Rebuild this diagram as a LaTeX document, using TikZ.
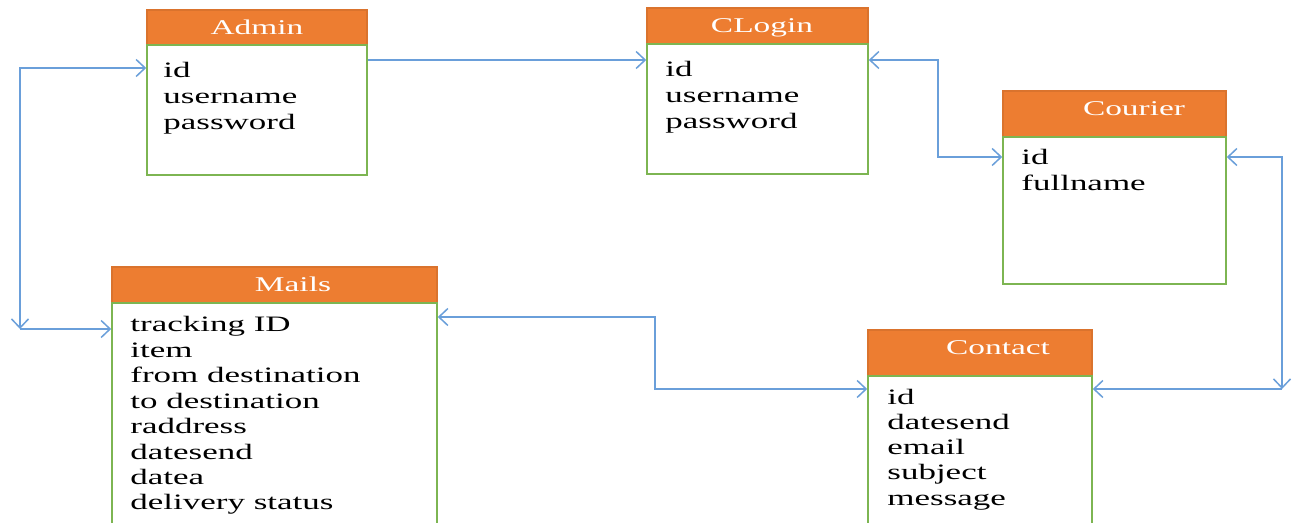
\documentclass[tikz,border=0pt]{standalone}
\usepackage{fontspec}
\setmainfont{Liberation Serif}[FakeStretch=1.59]
\usetikzlibrary{arrows.meta,fit}
\definecolor{hdr}{HTML}{ED7D31}
\definecolor{brd}{HTML}{7DB552}
\definecolor{lnk}{HTML}{6A9FDA}
\tikzset{
 hd/.style={fill=hdr,draw=hdr!92!black,line width=0.6pt,inner sep=0pt},
 bd/.style={draw=brd,line width=0.8pt,inner sep=0pt},
 ttl/.style={text=white,font=\fontsize{10.5}{12}\selectfont,anchor=base,inner sep=0pt},
 fld/.style={text=black,font=\fontsize{11}{13}\selectfont,anchor=base west,inner sep=0pt},
 conn/.style={draw=lnk,line width=0.75pt},
 >={Straight Barb[length=4.5pt,width=8.5pt,line width=0.75pt]}
}
\newcommand\erbox[8]{%
 \node[hd,fit={(#2,#3)(#5,#4)}] (#1H) {};
 \node[bd,fit={(#2,#4)(#5,#6)}] (#1B) {};
 \node[ttl] (#1T) at ({#8},{#3+25}) {#7};
}
\newcommand\erfields[5]{%
 \foreach \erT [count=\erI] in {#5} {\node[fld] (#1F\erI) at ({#2},{#3+(\erI-1)*#4}) {\erT};}
}
\begin{document}
\begin{tikzpicture}[x=0.5pt,y=-0.5pt]
\fill[white] (0,0) rectangle (1294,523);
\useasboundingbox (0,0) rectangle (1294,523);
\erbox{admin}{147}{10}{45}{367}{175}{Admin}{257}
\erfields{admin}{163}{78}{26}{id,username,password}
\erbox{clogin}{647}{8}{44}{868}{174}{CLogin}{762}
\erfields{clogin}{665}{77}{26}{id,username,password}
\erbox{courier}{1003}{91}{137}{1226}{284}{Courier}{1134}
\erfields{courier}{1021}{165}{25.5}{id,fullname}
\erbox{mails}{112}{267}{303}{437}{530}{Mails}{293}
\erfields{mails}{130}{332}{25.4}{tracking ID,item,from destination,to destination,raddress,datesend,datea,delivery status}
\erbox{contact}{868}{330}{376}{1092}{530}{Contact}{998}
\erfields{contact}{887}{404}{25.3}{id,datesend,email,subject,message}
% connectors
\coordinate (c1) at (20,68); \coordinate (c2) at (20,329);
\draw[conn,<->] (adminB.west |- c1) -- (c1) -- (c2);
\draw[conn,->] (c2) -- (mailsB.west |- c2);
\coordinate (c3) at (500,60);
\draw[conn,->] (adminB.east |- c3) -- (cloginB.west |- c3);
\coordinate (c4) at (938,60); \coordinate (c5) at (938,157);
\draw[conn,<->] (cloginB.east |- c4) -- (c4) -- (c5) -- (courierB.west |- c5);
\coordinate (c6) at (1282,157); \coordinate (c7) at (1282,389);
\draw[conn,<->] (courierB.east |- c6) -- (c6) -- (c7);
\draw[conn,->] (c7) -- (contactB.east |- c7);
\coordinate (c8) at (655,317); \coordinate (c9) at (655,389);
\draw[conn,<->] (mailsB.east |- c8) -- (c8) -- (c9) -- (contactB.west |- c9);
\end{tikzpicture}
\end{document}
